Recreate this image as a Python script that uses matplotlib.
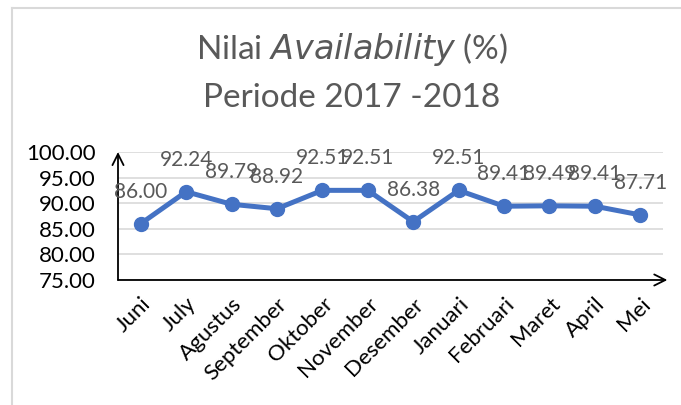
import matplotlib
matplotlib.use("Agg")
import matplotlib.pyplot as plt
from matplotlib.lines import Line2D

months = ["Juni", "July", "Agustus", "September", "Oktober", "November",
          "Desember", "Januari", "Februari", "Maret", "April", "Mei"]
values = [86.00, 92.24, 89.79, 88.92, 92.51, 92.51,
          86.38, 92.51, 89.41, 89.49, 89.41, 87.71]
yticks = [75, 80, 85, 90, 95, 100]

plt.rcParams['font.family'] = ['Lato', 'DejaVu Sans']

fig = plt.figure(figsize=(6.81, 4.05), dpi=100)
fig.patch.set_facecolor("white")

# outer chart border (partial, as in reference)
fig.add_artist(Line2D([11.5/681, 1.0], [1 - 7.5/405, 1 - 7.5/405], color="#d9d9d9", lw=1.5))
fig.add_artist(Line2D([11.5/681, 11.5/681], [0, 1 - 7.5/405], color="#d9d9d9", lw=1.5))

ax = fig.add_axes([118/681, 125/405, 545/681, 128/405])
x = list(range(len(months)))
ax.plot(x, values, color="#4472C4", lw=3.6, marker="o", markersize=10,
        solid_capstyle="round", zorder=3)

for xi, v in zip(x, values):
    ax.annotate(f"{v:.2f}", (xi, v), xytext=(0, 23), textcoords="offset points",
                ha="center", va="center", fontsize=15, color="#595959", zorder=4)

ax.set_xlim(-0.5, len(months) - 0.5)
ax.set_ylim(75, 100)
ax.set_yticks(yticks)
ax.set_yticklabels([f"{t:.2f}" for t in yticks], fontsize=16, color="black")
ax.set_xticks(x)
ax.set_xticklabels(months, rotation=45, ha="right", va="top", rotation_mode="anchor",
                   fontsize=16, color="black")
ax.tick_params(length=0)
ax.tick_params(axis="y", pad=16)
ax.tick_params(axis="x", pad=10)
for s in ax.spines.values():
    s.set_visible(False)
ax.grid(axis="y", color="#d9d9d9", lw=1.2)
ax.set_axisbelow(True)

# axis arrows
ax.annotate("", xy=(0, 1.0), xytext=(0, 0), xycoords="axes fraction",
            arrowprops=dict(arrowstyle="->,head_length=0.8,head_width=0.4", color="black", lw=1.3,
                            shrinkA=0, shrinkB=0), annotation_clip=False)
ax.annotate("", xy=(1.008, 0), xytext=(0, 0), xycoords="axes fraction",
            arrowprops=dict(arrowstyle="->,head_length=0.8,head_width=0.4", color="black", lw=1.3,
                            shrinkA=0, shrinkB=0), annotation_clip=False)

fig.text(352/681, 1 - 50/405, "Nilai $\\mathit{Availability}$ (%)", ha="center", va="center",
         fontsize=24, color="#595959")
fig.text(352/681, 1 - 98/405, "Periode 2017 -2018", ha="center", va="center",
         fontsize=24, color="#595959")

fig.savefig("out.png", dpi=100, facecolor="white")
